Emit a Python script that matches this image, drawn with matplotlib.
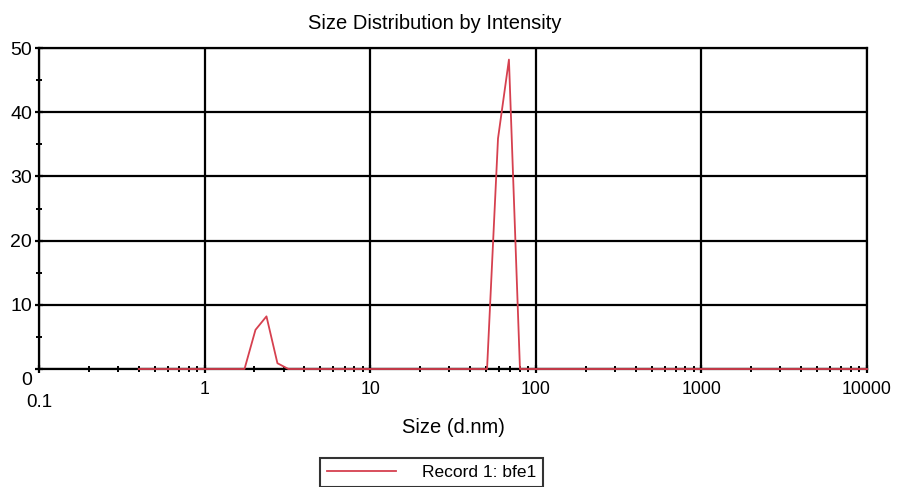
import matplotlib

matplotlib.use("Agg")

import matplotlib.pyplot as plt
import matplotlib.transforms as mtransforms
import numpy as np
from matplotlib.ticker import FixedLocator, LogLocator, NullFormatter

plt.rcParams["font.family"] = ["Liberation Sans", "DejaVu Sans"]

# size bins (d.nm) and intensity (%)
size_nm = [0.4, 0.4659, 0.5427, 0.6322, 0.7364, 0.8578, 0.9992, 1.164, 1.356,
           1.579, 1.741, 2.028, 2.363, 2.752, 3.206, 3.734, 4.35, 5.067,
           5.902, 6.876, 8.01, 9.33, 10.87, 12.66, 14.75, 17.18, 20.01,
           23.31, 27.15, 31.63, 36.84, 42.92, 50.0, 50.75, 59.1, 68.8,
           80.2, 93.4, 108.8, 126.7, 147.6, 172.0, 200.3, 233.3, 271.8,
           316.6, 368.8, 429.6, 500.4, 582.9, 679.1, 791.0, 921.4, 1073.0,
           1250.0, 1457.0, 1697.0, 1977.0, 2303.0, 2683.0, 3125.0, 3641.0,
           4241.0, 4940.0, 5754.0, 6703.0, 7808.0, 9096.0, 10000.0]
intensity = [0.0] * len(size_nm)
intensity[size_nm.index(2.028)] = 6.1
intensity[size_nm.index(2.363)] = 8.2
intensity[size_nm.index(2.752)] = 0.9
intensity[size_nm.index(59.1)] = 35.9
intensity[size_nm.index(68.8)] = 48.2

x_major = [0.1, 1, 10, 100, 1000, 10000]
x_labels = ["0.1", "1", "10", "100", "1000", "10000"]
y_major = [0, 10, 20, 30, 40, 50]
series_name = "Record 1: bfe1"

fig = plt.figure(figsize=(8.97, 4.87), dpi=100)
ax = fig.add_axes([0.0435, 0.2423, 0.9231, 0.6591])

ax.plot(size_nm, intensity, color="#d6404f", lw=1.3, label=series_name,
        zorder=4, clip_on=False)

ax.set_xscale("log")
ax.set_xlim(0.1, 10000)
ax.set_ylim(0, 50)
ax.set_xticks(x_major)
ax.set_xticklabels([""] + x_labels[1:])
ax.xaxis.set_minor_locator(LogLocator(base=10, subs=np.arange(2, 10)))
ax.xaxis.set_minor_formatter(NullFormatter())
ax.set_yticks(y_major)
ax.yaxis.set_minor_locator(FixedLocator(np.arange(5, 50, 10)))

ax.grid(True, which="major", color="black", lw=1.6)
for s in ax.spines.values():
    s.set_linewidth(1.6)
    s.set_color("black")
ax.spines["bottom"].set_zorder(3)

ax.tick_params(axis="both", which="major", direction="inout", length=6,
               width=1.6)
ax.tick_params(axis="x", which="major", pad=6, labelsize=12.8)
ax.tick_params(axis="y", which="major", pad=2, labelsize=14)
ax.tick_params(axis="both", which="minor", direction="inout", length=5,
               width=1.4)

# the "0" y label sits a little below its gridline in the original
zero_lbl = ax.get_yticklabels()[0]
zero_lbl.set_transform(zero_lbl.get_transform() + mtransforms.ScaledTranslation(
    0, -7 / 72, fig.dpi_scale_trans))

# the "0.1" label sits lower than the other x labels in the original
trans = mtransforms.blended_transform_factory(ax.transData, ax.transAxes)
ax.text(x_major[0], -0.105, x_labels[0], transform=trans, ha="center",
        va="center", fontsize=13.5)

ax.set_title("Size Distribution by Intensity", fontsize=14.5, pad=14,
             x=0.4777)
ax.set_xlabel("Size (d.nm)", fontsize=14.5, labelpad=14)

leg = fig.legend(loc="upper center", bbox_to_anchor=(0.481, 0.06),
                 fontsize=12.5, frameon=True, fancybox=False, handlelength=4.0,
                 borderaxespad=0, handletextpad=1.45, borderpad=0.4)
leg.get_frame().set_edgecolor("black")
leg.get_frame().set_linewidth(1.5)

fig.savefig("out.png", dpi=100)
